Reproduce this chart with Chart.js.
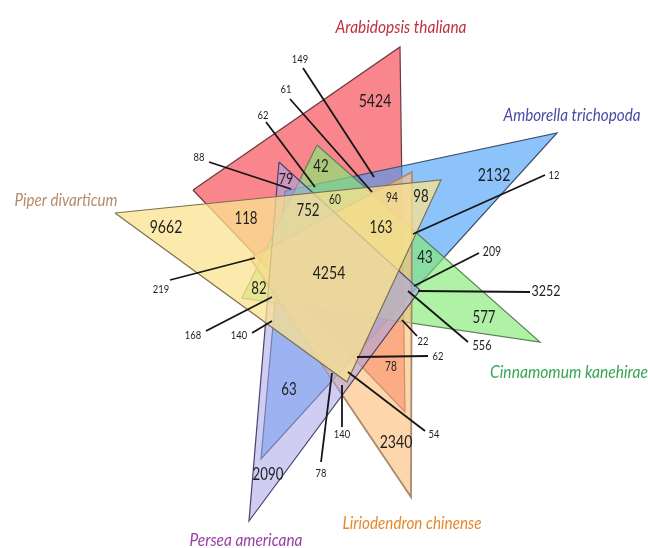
<!DOCTYPE html>
<html>
<head>
<meta charset="utf-8">
<script src="https://cdn.jsdelivr.net/npm/chart.js@4.4.1/dist/chart.umd.min.js"></script>
<style>
  html, body { margin: 0; padding: 0; background: #ffffff; }
  #wrap { width: 648px; height: 548px; position: relative; }
</style>
</head>
<body>
<div id="wrap"><canvas id="venn"></canvas></div>
<script>
// ---- data ----------------------------------------------------------------
const species = [
  'Arabidopsis thaliana',
  'Amborella trichopoda',
  'Piper divarticum',
  'Cinnamomum kanehirae',
  'Persea americana',
  'Liriodendron chinense'
];

// gene-family counts written inside their Venn regions
const regionCounts = [5424, 2132, 9662, 577, 2090, 2340, 4254, 118, 752, 42, 79, 60, 94, 98, 163, 43, 82, 63, 78];

// counts of the small regions, written outside and tied to the region by a leader line
const calloutCounts = [149, 61, 62, 88, 12, 209, 3252, 556, 22, 62, 54, 140, 78, 219, 168, 140];

// ---- layout (plot units: 0..648 across, 0..548 down) ----------------------
// triangle outline of each species set, same order as `species`
const triangles = [
  [[193, 190], [400, 47], [405, 412]],
  [[285, 191], [557, 133], [261, 459]],
  [[115, 213], [441, 180], [347, 382]],
  [[317, 145], [540, 342], [242, 298]],
  [[279, 162], [420, 290], [249, 521]],
  [[250, 258], [412, 172], [411, 497]]
];
// stacking: lower number is painted on top
const triangleOrder = [7, 6, 2, 5, 3, 4];

const speciesLabelPos = [
  [401, 27, 131], [572, 115, 137], [66, 200, 103],
  [569, 372, 158], [246, 540, 113], [412, 523, 139]
];

// [x, y, font size] of each in-region count
const regionLabelPos = [
  [375, 101, 18], [494, 175, 18], [166, 227, 18], [484, 318, 17], [268, 475, 17],
  [396, 442, 18], [329, 273, 18], [246, 219, 17], [308, 211, 17], [321, 167, 17],
  [286, 179, 16], [335, 200, 13], [392, 198, 13], [421, 197, 17], [381, 228, 17],
  [425, 258, 17], [259, 289, 17], [289, 390, 17], [391, 367, 13]
];

// [label x, label y, font size, line x1, y1, x2, y2] for each callout
const calloutPos = [
  [300, 59, 12, 303, 68, 374, 177],
  [286, 89, 12, 290, 99, 372, 192],
  [263, 115, 12, 266, 122, 315, 187],
  [199, 157, 12, 209, 162, 291, 189],
  [554, 175, 12, 545, 175, 413, 234],
  [492, 252, 13.5, 479, 253, 414, 286],
  [546, 291, 16, 530, 292, 418, 291],
  [482, 345, 14, 468, 342, 408, 291],
  [423, 341, 12, 417, 336, 402, 320],
  [438, 356, 12, 428, 356, 357, 357],
  [434, 434, 12, 425, 431, 348, 372],
  [342, 434, 12, 342, 427, 342, 385],
  [321, 473, 12, 321, 462, 332, 373],
  [161, 289, 12, 170, 280, 255, 258],
  [193, 335, 12, 206, 331, 272, 297],
  [239, 335, 12, 252, 333, 272, 321]
];

// ---- style ---------------------------------------------------------------
const fillColors = [
  'rgba(245, 53, 63, 0.6)',
  'rgba(63, 155, 247, 0.6)',
  'rgba(251, 227, 144, 0.75)',
  'rgba(132, 235, 117, 0.65)',
  'rgba(170, 164, 233, 0.55)',
  'rgba(252, 192, 127, 0.65)'
];
const edgeColors = ['#6b3a3e', '#3b4f6b', '#7d7250', '#5d7f5a', '#4a4270', '#a88b6e'];
const edgeWidths = [1.2, 1.2, 1.2, 1.2, 1.2, 1.8];
const titleColors = ['#c0303c', '#4a4aa6', '#b88a6a', '#3aa456', '#9a3ea6', '#e4892c'];
const textScaleX = 0.78;

// ---- datasets --------------------------------------------------------------
const datasets = [];
triangles.forEach((tri, i) => {
  const pts = tri.concat([tri[0]]).map(([x, y]) => ({ x, y }));
  datasets.push({
    label: species[i],
    data: pts,
    showLine: true,
    fill: 'shape',
    backgroundColor: fillColors[i],
    borderColor: edgeColors[i],
    borderWidth: edgeWidths[i],
    pointRadius: 0,
    tension: 0,
    order: triangleOrder[i]
  });
});
calloutPos.forEach((c, i) => {
  datasets.push({
    label: 'leader ' + calloutCounts[i],
    data: [{ x: c[3], y: c[4] }, { x: c[5], y: c[6] }],
    showLine: true,
    fill: false,
    borderColor: '#151515',
    borderWidth: 1.8,
    pointRadius: 0,
    order: 0
  });
});

// draws the species names and the counts at positions converted by the scales
const vennText = {
  id: 'vennText',
  afterDatasetsDraw(chart) {
    const { ctx, scales: { x, y } } = chart;
    const put = (txt, px, py, font, color, sx) => {
      ctx.save();
      ctx.translate(x.getPixelForValue(px), y.getPixelForValue(py));
      ctx.scale(sx, 1);
      ctx.font = font;
      ctx.fillStyle = color;
      ctx.textAlign = 'center';
      ctx.textBaseline = 'middle';
      ctx.fillText(txt, 0, 0);
      ctx.restore();
    };
    regionCounts.forEach((v, i) => {
      const p = regionLabelPos[i];
      put(String(v), p[0], p[1], p[2] + 'px Lato', '#1e1e1e', textScaleX);
    });
    calloutCounts.forEach((v, i) => {
      const p = calloutPos[i];
      put(String(v), p[0], p[1], p[2] + 'px Lato', '#1e1e1e', textScaleX);
    });
    species.forEach((name, i) => {
      const p = speciesLabelPos[i];
      ctx.save();
      ctx.font = 'italic 18px Lato';
      ctx.fillStyle = titleColors[i];
      ctx.textAlign = 'center';
      ctx.textBaseline = 'middle';
      ctx.fillText(name, x.getPixelForValue(p[0]), y.getPixelForValue(p[1]), p[2]);
      ctx.restore();
    });
  }
};

new Chart(document.getElementById('venn'), {
  type: 'scatter',
  data: { datasets },
  options: {
    responsive: true,
    maintainAspectRatio: false,
    devicePixelRatio: 1,
    animation: false,
    layout: { padding: 0 },
    plugins: { legend: { display: false }, tooltip: { enabled: false } },
    scales: {
      x: { type: 'linear', min: 0, max: 648, display: false },
      y: { type: 'linear', min: 0, max: 548, reverse: true, display: false }
    }
  },
  plugins: [vennText]
});
</script>
</body>
</html>
